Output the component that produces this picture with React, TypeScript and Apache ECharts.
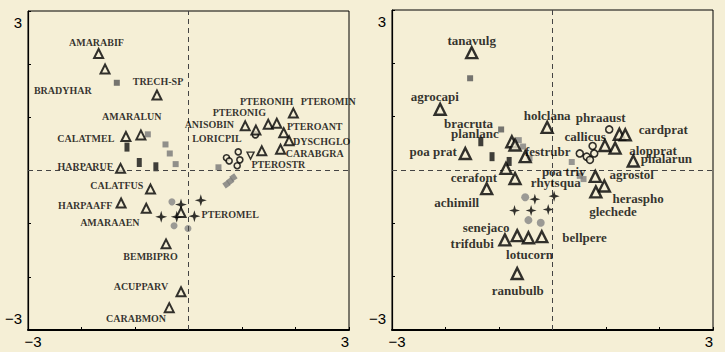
import React, { useEffect, useRef } from 'react';
import * as echarts from 'echarts';

// ---------- data: left panel (carabid species / sites) ----------
const leftSpeciesNames = [
  'AMARABIF', 'BRADYHAR', 'TRECH-SP', 'AMARALUN', 'CALATMEL', 'HARPARUF',
  'PTERONIG', 'ANISOBIN', 'PTERONIH', '', 'PTEROMIN', 'PTEROANT', 'DYSCHGLO',
  'LORICPIL', 'CARABGRA', 'CALATFUS', 'HARPAAFF', 'AMARAAEN', 'PTEROMEL',
  'BEMBIPRO', 'ACUPPARV', 'CARABMON',
];
const leftSpeciesXY = [
  [-1.68, 2.2], [-1.56, 1.91], [-0.59, 1.42], [-0.89, 0.67], [-1.17, 0.64], [-1.27, 0.04],
  [1.06, 0.84], [1.26, 0.76], [1.49, 0.87], [1.65, 0.89], [1.96, 1.08], [1.78, 0.71], [1.88, 0.56],
  [1.37, 0.37], [1.72, 0.4], [-0.71, -0.35], [-1.26, -0.61], [-0.79, -0.71], [-0.14, -0.79],
  [-0.42, -1.38], [-0.14, -2.28], [-0.36, -2.58],
];
const leftSpeciesLabelXY = [
  [-1.72, 2.4], [-2.35, 1.51], [-0.57, 1.67], [-1.06, 1.01], [-1.92, 0.61], [-1.93, 0.08],
  [0.95, 1.09], [0.39, 0.86], [1.46, 1.29], null, [2.61, 1.29], [2.36, 0.82], [2.49, 0.54],
  [0.53, 0.61], [2.36, 0.32], [-1.34, -0.28], [-1.93, -0.65], [-1.47, -0.98], [0.78, -0.82],
  [-0.71, -1.62], [-0.89, -2.18], [-0.98, -2.79],
];
const leftInvTriangle = [[1.16, 0.28]];
const leftInvTriangleName = ['PTEROSTR'];
const leftInvTriangleLabelXY = [[1.68, 0.12]];
const leftDarkSquares = [[-1.34, 1.65]];
const leftGraySquares = [[-0.76, 0.68], [-0.43, 0.49], [-0.35, 0.32], [-0.24, 0.12], [0.56, 0.06]];
const leftGrayDiamonds = [[0.84, -0.13], [0.78, -0.2], [0.71, -0.26]];
const leftBlackRects = [[-1.15, 0.44], [-0.92, 0.15], [-0.61, 0.07]];
const leftOpenCircles = [[0.93, 0.35], [0.71, 0.24], [0.76, 0.18], [0.91, 0.09], [0.96, 0.2], [1.25, 0.67]];
const leftStars = [[-0.14, -0.64], [0.23, -0.56], [-0.51, -0.87], [-0.22, -0.87], [0.11, -0.86]];
const leftGrayCircles = [[-0.31, -0.59], [-0.27, -1.04], [-0.01, -1.09]];

// ---------- data: right panel (plant species / sites) ----------
const rightSpeciesXY = [
  [-1.51, 2.2], [-2.1, 1.14], [-0.1, 0.8], [-0.76, 0.53], [-0.7, 0.47], [-0.51, 0.25],
  [-1.63, 0.31], [-0.87, 0.03], [-1.23, -0.35], [-0.7, -0.16], [1.25, 0.67], [1.36, 0.66],
  [0.98, 0.46], [1.17, 0.41], [1.51, 0.17], [0.8, -0.12], [0.97, -0.3], [0.81, -0.41],
  [-0.89, -1.31], [-0.66, -1.23], [-0.45, -1.27], [-0.2, -1.25], [-0.66, -1.94],
];
const rightLabelNames = [
  'tanavulg', 'agrocapi', 'holclana', 'bracruta', 'planlanc', 'festrubr', 'poa prat',
  'cerafont', 'achimill', 'rhytsqua', 'phraaust', 'cardprat', 'callicus', 'alopprat',
  'phalarun', 'poa triv', 'agrostol', 'heraspho', 'glechede', 'senejaco', 'trifdubi',
  'bellpere', 'lotucorn', 'ranubulb',
];
const rightLabelXY = [
  [-1.51, 2.43], [-2.2, 1.38], [-0.1, 1.02], [-1.57, 0.88], [-1.45, 0.68], [-0.09, 0.34], [-2.23, 0.34],
  [-1.47, -0.14], [-1.79, -0.6], [0.06, -0.23], [0.9, 0.99], [2.07, 0.76], [0.61, 0.62], [1.88, 0.36],
  [2.13, 0.22], [0.21, -0.03], [1.48, -0.09], [1.6, -0.54], [1.13, -0.77], [-1.24, -1.08], [-1.5, -1.38],
  [0.6, -1.27], [-0.43, -1.58], [-0.65, -2.26],
];
const rightDarkSquares = [[-1.54, 1.72], [-0.96, 0.76]];
const rightGraySquares = [[-0.63, 0.56], [-0.55, 0.44], [-0.43, 0.22], [0.36, 0.15], [0.58, -0.17], [0.51, -0.11]];
const rightBlackRects = [[-1.34, 0.53], [-1.13, 0.25], [-0.81, 0.16]];
const rightOpenCircles = [[1.06, 0.76], [0.75, 0.45], [0.51, 0.31], [0.64, 0.25], [0.7, 0.19], [0.78, 0.31]];
const rightStars = [[-0.33, -0.55], [0.03, -0.49], [-0.71, -0.76], [-0.4, -0.76], [-0.08, -0.74]];
const rightGrayCircles = [[-0.51, -0.51], [-0.45, -0.94], [-0.22, -0.99]];

const axisMin = -3;
const axisMax = 3;
const tickLabels = ['−3', '3'];

// ---------- styles ----------
const BG = '#f5efd6';
const SERIF = '"Liberation Serif", "Times New Roman", "DejaVu Serif", serif';
const SANS = '"Liberation Sans", Arial, Helvetica, sans-serif';
const STAR = 'path://M0,-10 L2.3,-2.3 L10,0 L2.3,2.3 L0,10 L-2.3,2.3 L-10,0 L-2.3,-2.3 Z';

function pts(s: number, arr: number[][], symbol: string, size: any, itemStyle: any, z: number, rotate = 0) {
  return {
    type: 'scatter', xAxisIndex: s, yAxisIndex: s, data: arr, symbol, symbolSize: size,
    symbolRotate: rotate, itemStyle, z, silent: true,
  };
}

function labels(s: number, names: string[], xy: (number[] | null)[], fontSize: number) {
  const data: any[] = [];
  names.forEach((n, i) => {
    const p = xy[i];
    if (n && p) data.push({ name: n, value: p });
  });
  return {
    type: 'scatter', xAxisIndex: s, yAxisIndex: s, data, symbol: 'circle', symbolSize: 1,
    itemStyle: { color: 'rgba(0,0,0,0)' }, z: 20, silent: true,
    label: {
      show: true, position: 'inside', formatter: '{b}', color: '#000',
      fontFamily: SERIF, fontWeight: 'bold', fontSize,
    },
  };
}

function zeroLines(s: number) {
  return {
    type: 'scatter', xAxisIndex: s, yAxisIndex: s, data: [], silent: true, z: 1,
    markLine: {
      silent: true, symbol: 'none', animation: false,
      label: { show: false },
      lineStyle: { type: [5, 4], color: '#444', width: 1 },
      data: [{ xAxis: 0 }, { yAxis: 0 }],
    },
  };
}

function xAxis(g: number) {
  return {
    type: 'value', gridIndex: g, min: axisMin, max: axisMax, interval: 1,
    axisLine: { show: true, onZero: false, lineStyle: { color: '#000', width: 2 } },
    axisTick: { show: true, inside: true, length: 3, lineStyle: { color: '#000', width: 1 } },
    splitLine: { show: false },
    axisLabel: {
      show: true, margin: 4, color: '#000', fontFamily: SANS, fontSize: 15,
      formatter: (v: number) => (v === axisMin ? tickLabels[0] : v === axisMax ? tickLabels[1] : ''),
      align: 'center', alignMinLabel: 'center', alignMaxLabel: 'right',
      padding: [0, 0, 0, 10], hideOverlap: false,
    },
  };
}

function yAxis(g: number) {
  return {
    type: 'value', gridIndex: g, min: axisMin, max: axisMax, interval: 1,
    axisLine: { show: true, onZero: false, lineStyle: { color: '#000', width: 1.2 } },
    axisTick: { show: true, inside: true, length: 3, lineStyle: { color: '#000', width: 1 } },
    splitLine: { show: false },
    axisLabel: {
      show: true, margin: 6, color: '#000', fontFamily: SANS, fontSize: 15, lineHeight: 15,
      padding: [4, 0, 4, 0],
      formatter: (v: number) => (v === axisMin ? tickLabels[0] : v === axisMax ? tickLabels[1] : ''),
      verticalAlignMinLabel: 'bottom', verticalAlignMaxLabel: 'top', hideOverlap: false,
    },
  };
}

const triStyleL = { color: BG, borderColor: '#000', borderWidth: 2 };
const triStyleR = { color: BG, borderColor: '#000', borderWidth: 2.4 };
const openCircle = { color: BG, borderColor: '#000', borderWidth: 1.6 };

const option: any = {
  animation: false,
  backgroundColor: BG,
  grid: [
    { left: 28, top: 11, width: 321, height: 319, show: true, borderColor: '#000', borderWidth: 1, backgroundColor: 'transparent', outerBoundsMode: 'none', containLabel: false },
    { left: 392, top: 10, width: 321, height: 320, show: true, borderColor: '#000', borderWidth: 1, backgroundColor: 'transparent', outerBoundsMode: 'none', containLabel: false },
  ],
  xAxis: [xAxis(0), xAxis(1)],
  yAxis: [yAxis(0), yAxis(1)],
  series: [
    zeroLines(0),
    zeroLines(1),
    // left panel
    pts(0, leftDarkSquares, 'rect', 6, { color: '#555' }, 3),
    pts(0, leftGraySquares, 'rect', 6, { color: '#777' }, 3),
    pts(0, leftGrayDiamonds, 'rect', 6, { color: '#7a7a7a' }, 3, 35),
    pts(0, leftBlackRects, 'rect', [5, 9], { color: '#111' }, 3),
    pts(0, leftGrayCircles, 'circle', 7, { color: '#858585' }, 3),
    pts(0, leftOpenCircles, 'circle', 6, openCircle, 4),
    pts(0, leftStars, STAR, 12, { color: '#000' }, 4),
    pts(0, leftInvTriangle, 'triangle', 7, { color: BG, borderColor: '#000', borderWidth: 1.4 }, 5, 180),
    pts(0, leftSpeciesXY, 'triangle', 9, triStyleL, 6),
    labels(0, leftSpeciesNames, leftSpeciesLabelXY, 10),
    labels(0, leftInvTriangleName, leftInvTriangleLabelXY, 10),
    // right panel
    pts(1, rightDarkSquares, 'rect', 6, { color: '#555' }, 3),
    pts(1, rightGraySquares, 'rect', 6, { color: '#808080' }, 3),
    pts(1, rightBlackRects, 'rect', [5, 9], { color: '#111' }, 3),
    pts(1, rightGrayCircles, 'circle', 8, { color: '#858585' }, 3),
    pts(1, rightOpenCircles, 'circle', 7, openCircle, 4),
    pts(1, rightStars, STAR, 11, { color: '#000' }, 4),
    pts(1, rightSpeciesXY, 'triangle', 11, triStyleR, 6),
    labels(1, rightLabelNames, rightLabelXY, 13),
  ],
};

export default function App() {
  const ref = useRef<HTMLDivElement>(null);
  useEffect(() => {
    const chart = echarts.init(ref.current as HTMLDivElement, null, { renderer: 'svg' });
    chart.setOption(option);
    return () => chart.dispose();
  }, []);
  return (
    <div
      ref={ref}
      style={{ position: 'fixed', left: 0, top: 0, width: 725, height: 352, background: BG }}
    />
  );
}
